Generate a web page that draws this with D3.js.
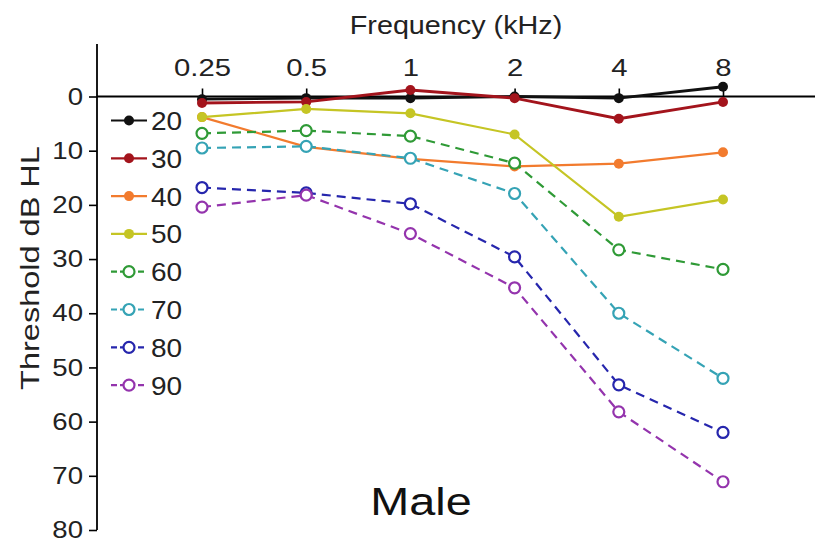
<!DOCTYPE html>
<html>
<head>
<meta charset="utf-8">
<script src="https://cdn.jsdelivr.net/npm/d3@7"></script>
<style>
  html, body { margin: 0; padding: 0; background: #fff; }
  svg { display: block; font-family: "Liberation Sans", Arial, sans-serif; }
</style>
</head>
<body>
<svg id="chart" width="815" height="541"></svg>
<script>
// Frequencies (kHz) tested and their tick labels
const frequencies = [0.25, 0.5, 1, 2, 4, 8];
const freqLabels = ["0.25", "0.5", "1", "2", "4", "8"];
const dbTicks = [0, 10, 20, 30, 40, 50, 60, 70, 80];

// Age groups (years) shown in the legend
const ageGroups = ["20", "30", "40", "50", "60", "70", "80", "90"];

// Mean hearing thresholds (dB HL) per age group, one value per frequency
const age20 = [0.5, 0.3, 0.3, 0.0, 0.3, -1.8];
const age30 = [1.2, 1.0, -1.2, 0.3, 4.1, 1.0];
const age40 = [3.8, 9.3, 11.5, 12.9, 12.4, 10.3];
const age50 = [3.8, 2.3, 3.1, 7.0, 22.2, 19.0];
const age60 = [6.8, 6.3, 7.3, 12.3, 28.3, 31.9];
const age70 = [9.5, 9.2, 11.4, 17.9, 40.0, 52.0];
const age80 = [16.8, 17.8, 19.8, 29.6, 53.2, 62.0];
const age90 = [20.4, 18.2, 25.3, 35.3, 58.2, 71.1];

const seriesValues = [age20, age30, age40, age50, age60, age70, age80, age90];
const seriesColors = ["#111111", "#a3141c", "#f27b2e", "#c5c524", "#2f9a36", "#35a3b5", "#2626ad", "#9434ad"];
const seriesDashed = [false, false, false, false, true, true, true, true];

const svg = d3.select("#chart");
const textColor = "#222";

const x = d3.scaleLog().base(2).domain([0.25, 8]).range([202, 723]);
const y = d3.scaleLinear().domain([0, 80]).range([96.5, 530]);
const axisX = 97;

// Widen a text horizontally about its own anchor point
function widen(sel, k) {
  sel.each(function () {
    const t = d3.select(this);
    const tx = +t.attr("x") || 0, ty = +t.attr("y") || 0;
    t.attr("x", 0).attr("y", 0).attr("transform", `translate(${tx},${ty}) scale(${k},1)`);
  });
}

// Axes
const freqAxis = svg.append("g").attr("transform", `translate(0,${y(0)})`)
  .call(d3.axisTop(x).tickValues(frequencies).tickFormat((d, i) => freqLabels[i]).tickSize(8).tickPadding(13));
freqAxis.select(".domain").remove();
freqAxis.selectAll("line").attr("stroke", "#000").attr("stroke-width", 1.6);
freqAxis.selectAll("text").attr("font-size", 24).attr("fill", textColor)
  .attr("font-family", "Liberation Sans, Arial, sans-serif").call(widen, 1.22);

const dbAxis = svg.append("g").attr("transform", `translate(${axisX},0)`)
  .call(d3.axisLeft(y).tickValues(dbTicks).tickSize(8).tickPadding(6));
dbAxis.select(".domain").remove();
dbAxis.selectAll("line").attr("stroke", "#000").attr("stroke-width", 1.6);
dbAxis.selectAll("text").attr("font-size", 24).attr("fill", textColor)
  .attr("font-family", "Liberation Sans, Arial, sans-serif").call(widen, 1.15);

svg.append("line").attr("x1", axisX).attr("x2", axisX).attr("y1", 44).attr("y2", y(80))
  .attr("stroke", "#000").attr("stroke-width", 1.8);
svg.append("line").attr("x1", axisX).attr("x2", 815).attr("y1", y(0)).attr("y2", y(0))
  .attr("stroke", "#000").attr("stroke-width", 1.8);

// Axis titles
svg.append("text").attr("x", 456).attr("y", 34).attr("text-anchor", "middle")
  .attr("font-size", 25).attr("fill", textColor).text("Frequency (kHz)").call(widen, 1.15);
svg.append("text").attr("transform", "translate(39,268) rotate(-90) scale(1.3,1)").attr("text-anchor", "middle")
  .attr("font-size", 25).attr("fill", textColor).text("Threshold dB HL");
svg.append("text").attr("x", 421).attr("y", 515).attr("text-anchor", "middle")
  .attr("font-size", 39).attr("fill", "#111").text("Male").call(widen, 1.2);

// Series lines and markers
const line = d3.line().x((d, i) => x(frequencies[i])).y(d => y(d));
seriesValues.forEach((vals, s) => {
  const g = svg.append("g");
  g.append("path").datum(vals).attr("d", line).attr("fill", "none")
    .attr("stroke", seriesColors[s]).attr("stroke-width", s < 2 ? 2.8 : 2.2)
    .attr("stroke-dasharray", seriesDashed[s] ? "9,6" : null);
  g.selectAll("circle").data(vals).join("circle")
    .attr("cx", (d, i) => x(frequencies[i])).attr("cy", d => y(d))
    .attr("r", seriesDashed[s] ? 5.5 : 5)
    .attr("fill", seriesDashed[s] ? "#fff" : seriesColors[s])
    .attr("stroke", seriesColors[s]).attr("stroke-width", seriesDashed[s] ? 2.2 : 0);
});

// Legend
const legend = svg.append("g");
ageGroups.forEach((label, s) => {
  const ly = 120.5 + s * 37.8;
  legend.append("line").attr("x1", 111).attr("x2", 147).attr("y1", ly).attr("y2", ly)
    .attr("stroke", seriesColors[s]).attr("stroke-width", 2.2)
    .attr("stroke-dasharray", seriesDashed[s] ? "6,3" : null);
  legend.append("circle").attr("cx", 129).attr("cy", ly)
    .attr("r", seriesDashed[s] ? 5.5 : 5)
    .attr("fill", seriesDashed[s] ? "#fff" : seriesColors[s])
    .attr("stroke", seriesColors[s]).attr("stroke-width", seriesDashed[s] ? 2.2 : 0);
  legend.append("text").attr("x", 151).attr("y", ly + 9.5)
    .attr("font-size", 25).attr("fill", textColor).text(label).call(widen, 1.12);
});
</script>
</body>
</html>
